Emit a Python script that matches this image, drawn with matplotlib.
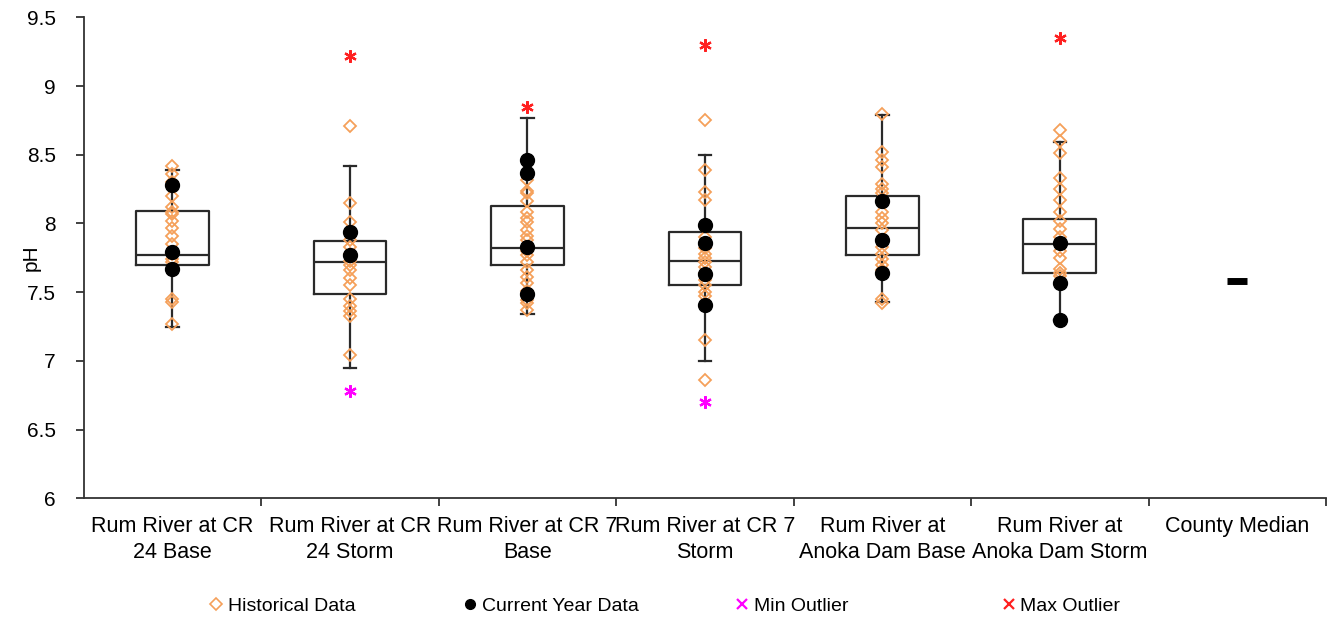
import matplotlib
matplotlib.use("Agg")
import matplotlib.pyplot as plt
from matplotlib.lines import Line2D
import numpy as np

plt.rcParams['font.family'] = ['Liberation Sans', 'DejaVu Sans']

# Sites along the x axis
sites = ["Rum River at CR\n24 Base", "Rum River at CR\n24 Storm", "Rum River at CR 7\nBase",
         "Rum River at CR 7\nStorm", "Rum River at\nAnoka Dam Base", "Rum River at\nAnoka Dam Storm",
         "County Median"]

# Historical pH samples per site
hist_1 = [8.42, 8.36, 8.30, 8.20, 8.12, 8.08, 8.07, 8.02, 7.97, 7.91, 7.85, 7.78, 7.74, 7.72, 7.45, 7.43, 7.27]
hist_2 = [8.71, 8.15, 8.01, 7.88, 7.83, 7.78, 7.73, 7.70, 7.66, 7.60, 7.55, 7.45, 7.40, 7.36, 7.33, 7.04]
hist_3 = [8.32, 8.24, 8.22, 8.16, 8.08, 8.04, 8.01, 7.95, 7.91, 7.88, 7.80, 7.77, 7.72, 7.66, 7.61, 7.57,
          7.51, 7.44, 7.42, 7.37]
hist_4 = [8.75, 8.39, 8.23, 8.17, 7.90, 7.82, 7.78, 7.75, 7.72, 7.68, 7.64, 7.59, 7.55, 7.50, 7.47, 7.15, 6.86]
hist_5 = [8.80, 8.52, 8.46, 8.41, 8.29, 8.25, 8.22, 8.08, 8.04, 8.00, 7.95, 7.83, 7.78, 7.74, 7.70, 7.66,
          7.45, 7.42]
hist_6 = [8.68, 8.60, 8.51, 8.33, 8.25, 8.17, 8.08, 8.02, 7.96, 7.90, 7.80, 7.75, 7.67, 7.64, 7.62]

# Current year pH samples per site
curr_1 = [8.28, 7.79, 7.67]
curr_2 = [7.94, 7.77]
curr_3 = [8.46, 8.37, 7.83, 7.49]
curr_4 = [7.99, 7.86, 7.63, 7.41]
curr_5 = [8.16, 7.88, 7.64]
curr_6 = [7.86, 7.57, 7.30]

# Box statistics per site (whisker low, Q1, median, Q3, whisker high)
whis_lo = [7.25, 6.95, 7.34, 7.00, 7.43, 7.30]
q1 = [7.70, 7.49, 7.70, 7.55, 7.77, 7.64]
median = [7.77, 7.72, 7.82, 7.73, 7.97, 7.85]
q3 = [8.09, 7.87, 8.13, 7.94, 8.20, 8.03]
whis_hi = [8.39, 8.42, 8.77, 8.50, 8.79, 8.59]

# Outliers (None where a site has none)
min_outlier = [None, 6.78, None, 6.70, None, None]
max_outlier = [None, 9.22, 8.85, 9.30, None, 9.35]

county_median = 7.58

hist = [hist_1, hist_2, hist_3, hist_4, hist_5, hist_6]
curr = [curr_1, curr_2, curr_3, curr_4, curr_5, curr_6]

orange = '#F5A05A'
star = (6, 2, 0)
edge = '#2a2a2a'

fig = plt.figure(figsize=(13.33, 6.22), dpi=100)
ax = fig.add_axes([0.0628, 0.199, 0.932, 0.773])

pos = np.arange(1, len(sites) + 1)
stats = [dict(whislo=a, q1=b, med=c, q3=d, whishi=e, fliers=[])
         for a, b, c, d, e in zip(whis_lo, q1, median, q3, whis_hi)]
ax.bxp(stats, positions=pos[:6], widths=0.41, capwidths=0.07, showfliers=False,
       boxprops=dict(color=edge, linewidth=1.6),
       medianprops=dict(color=edge, linewidth=1.6),
       whiskerprops=dict(color=edge, linewidth=1.6),
       capprops=dict(color=edge, linewidth=1.6),
       manage_ticks=False, zorder=2)

for i in range(6):
    x = pos[i]
    ax.plot([x] * len(hist[i]), hist[i], ls='none', marker='D', ms=6.5, mfc='none',
            mec=orange, mew=1.3, zorder=3)
    ax.plot([x] * len(curr[i]), curr[i], ls='none', marker='o', ms=10, color='black', zorder=4)
    if min_outlier[i] is not None:
        ax.plot(x, min_outlier[i], ls='none', marker=star, ms=9, mec='#FF00FF', mew=1.6, zorder=5)
    if max_outlier[i] is not None:
        ax.plot(x, max_outlier[i], ls='none', marker=star, ms=9, mec='#FF2020', mew=1.6, zorder=5)

ax.plot(pos[6], county_median, ls='none', marker='_', ms=14, mew=5, color='black', zorder=4)

ax.set_xlim(0.5, 7.5)
ax.set_ylim(6, 9.5)
ax.set_yticks(np.arange(6, 9.51, 0.5))
ax.set_yticklabels(['6', '6.5', '7', '7.5', '8', '8.5', '9', '9.5'])
ax.set_xticks(pos)
ax.set_xticklabels(sites, fontsize=15.5, linespacing=1.3)
ax.set_xticks(np.arange(1.5, 8, 1), minor=True)
ax.tick_params(axis='x', which='major', length=0, pad=13)
ax.tick_params(axis='x', which='minor', length=6, width=1.3, color='#333333')
ax.tick_params(axis='y', length=6, width=1.3, color='#333333', labelsize=15, pad=14)
ax.set_ylabel('pH', fontsize=15)
ax.yaxis.set_label_coords(-0.035, 0.5)

for s in ['top', 'right']:
    ax.spines[s].set_visible(False)
for s in ['left', 'bottom']:
    ax.spines[s].set_linewidth(1.3)
    ax.spines[s].set_color('#333333')

handles = [
    Line2D([], [], ls='none', marker='D', ms=6, mfc='none', mec=orange, mew=1.2),
    Line2D([], [], ls='none', marker='o', ms=7, color='black'),
    Line2D([], [], ls='none', marker='x', ms=7, mec='#FF00FF', mew=1.6),
    Line2D([], [], ls='none', marker='x', ms=7, mec='#FF2020', mew=1.6),
]
labels = ['Historical Data', 'Current Year Data', 'Min Outlier', 'Max Outlier']
# one legend per entry so each sits at its own slot along the bottom
handle_x = [216, 470, 742, 1009]
for h, lab, hx in zip(handles, labels, handle_x):
    fig.legend([h], [lab], loc='center left', bbox_to_anchor=((hx - 6) / 1333, 0.026),
               frameon=False, fontsize=14, handlelength=0.6, handletextpad=0.3,
               borderpad=0, borderaxespad=0)

fig.savefig('out.png', dpi=100)
